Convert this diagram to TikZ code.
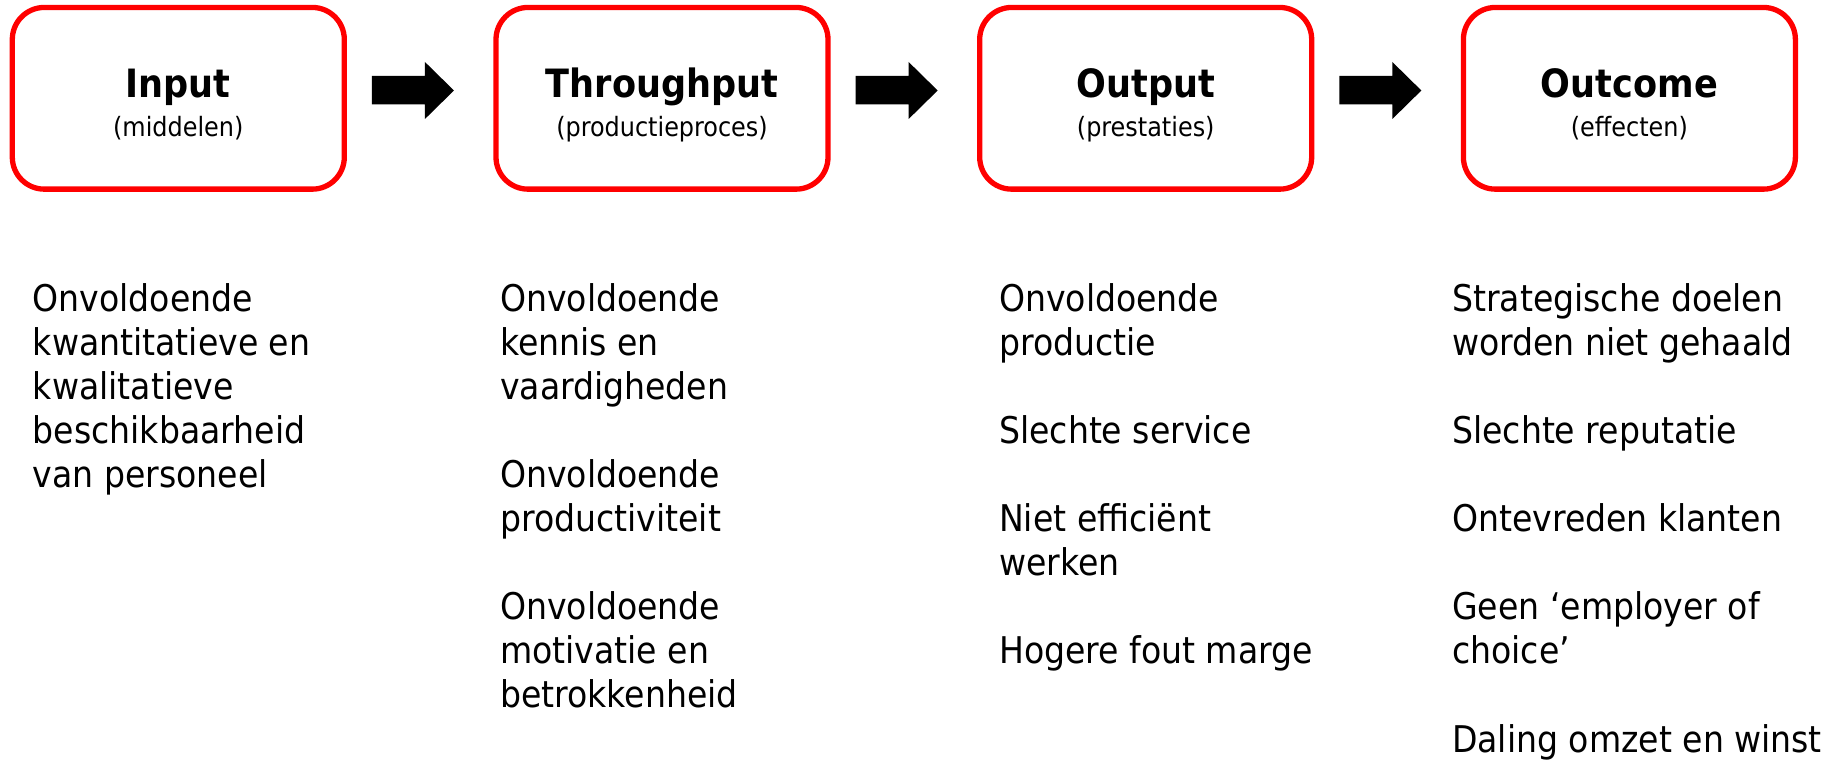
\documentclass[tikz,border=0pt]{standalone}
\usepackage{fontspec}
\setmainfont{DejaVu Sans Condensed}
\usetikzlibrary{calc}
\tikzset{
  box/.style={draw=red, line width=5.3pt, rounded corners=32pt, minimum width=332pt, minimum height=181.7pt, inner sep=0pt, fill=white},
  ttl/.style={anchor=base, inner sep=0pt, font=\fontsize{39}{44}\selectfont\bfseries},
  sub/.style={anchor=base, inner sep=0pt, font=\fontsize{26.6}{30}\selectfont},
  txt/.style={anchor=base west, inner sep=0pt, font=\fontsize{36.8}{44}\selectfont},
  blockarrow/.style={fill=black}
}
\begin{document}
\begin{tikzpicture}[x=1pt,y=-1pt]
\useasboundingbox[fill=white] (0,0) rectangle (1832,765);
% boxes
\node[box] (b1) at (178.3,98.3) {};
\node[box] (b2) at (662.0,98.3) {};
\node[box] (b3) at (1145.7,98.3) {};
\node[box] (b4) at (1629.4,98.3) {};
% titles
\node[ttl] (t1) at (b1.center |- 0,98) {Input};
\node[sub] (s1) at (b1.center |- 0,136.5) {(middelen)};
\node[ttl] (t2) at (b2.center |- 0,98) {Throughput};
\node[sub] (s2) at (b2.center |- 0,136.5) {(productieproces)};
\node[ttl] (t3) at (b3.center |- 0,98) {Output};
\node[sub] (s3) at (b3.center |- 0,136.5) {(prestaties)};
\node[ttl] (t4) at (b4.center |- 0,98) {Outcome};
\node[sub] (s4) at (b4.center |- 0,136.5) {(effecten)};
% block arrows between boxes
\foreach \a/\b in {b1/b2,b2/b3,b3/b4}{
  \path (\a.east) ++(25,-8.3) coordinate (\a-\b);
  \fill[blockarrow] (\a-\b) ++(0,-14) -- ++(53,0) -- ++(0,-14) -- ++(29,28.5)
     -- ++(-29,28.5) -- ++(0,-14.5) -- ++(-53,0) -- cycle;
}
% column texts
\foreach \k/\t in {0/Onvoldoende,1/kwantitatieve en,2/kwalitatieve,3/beschikbaarheid,4/van personeel}
  \node[txt] (c1-\k) at (32.7,{311+44.1*\k}) {\t};
\foreach \k/\t in {0/Onvoldoende,1/kennis en,2/vaardigheden,4/Onvoldoende,5/productiviteit,7/Onvoldoende,8/motivatie en,9/betrokkenheid}
  \node[txt] (c2-\k) at (500,{311+44.1*\k}) {\t};
\foreach \k/\t in {0/Onvoldoende,1/productie,3/Slechte service,5/Niet efficiënt,6/werken,8/Hogere fout marge}
  \node[txt] (c3-\k) at (999,{311+44.1*\k}) {\t};
\foreach \k/\t in {0/Strategische doelen,1/worden niet gehaald,3/Slechte reputatie,5/Ontevreden klanten,7/Geen ‘employer of,8/choice’,10/Daling omzet en winst}
  \node[txt] (c4-\k) at (1452,{311+44.1*\k}) {\t};
\end{tikzpicture}
\end{document}
